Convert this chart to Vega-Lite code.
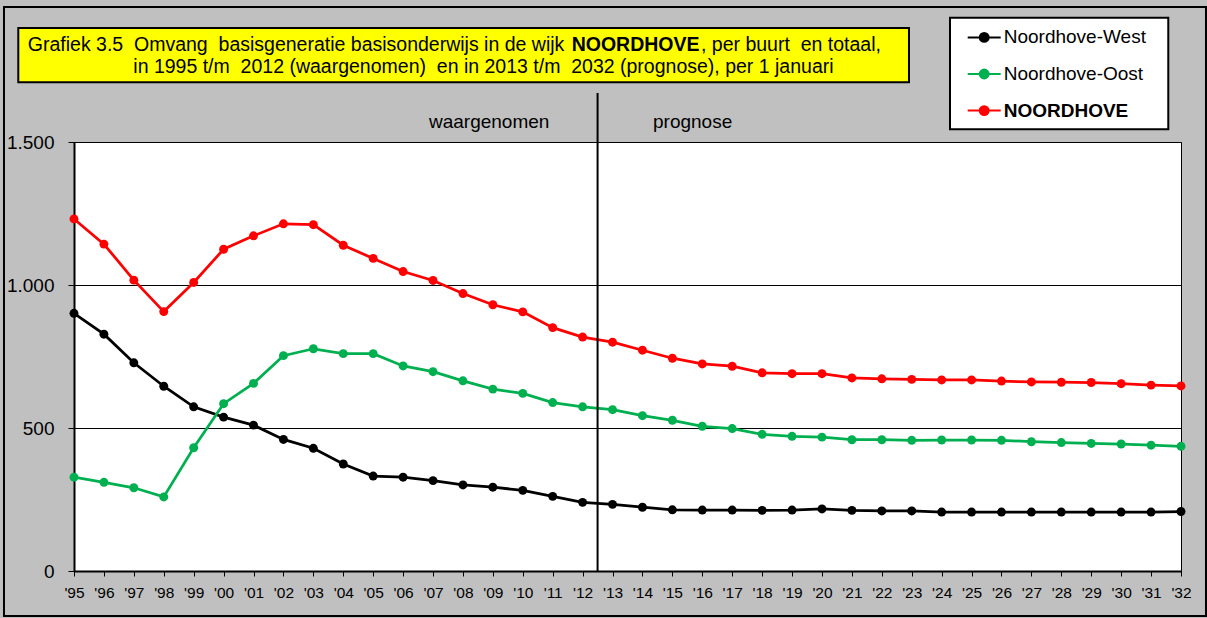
{
  "$schema": "https://vega.github.io/schema/vega-lite/v6.json",
  "width": 1107,
  "height": 429,
  "autosize": {"type": "none"},
  "padding": {"left": 74, "top": 142, "right": 26, "bottom": 47},
  "background": "#c0c0c0",
  "config": {
    "view": {"fill": "white", "stroke": "black", "strokeWidth": 1},
    "font": "Liberation Sans",
    "text": {"font": "Liberation Sans", "color": "black"},
    "axis": {
      "labelFont": "Liberation Sans", "labelColor": "black",
      "tickColor": "black", "tickWidth": 1,
      "domainColor": "black", "domainWidth": 2,
      "labelOverlap": false, "labelFlush": false
    },
    "axisX": {"labelFontSize": 15.5, "labelPadding": 9, "tickSize": 5, "grid": false},
    "axisY": {"labelFontSize": 19, "labelPadding": 14, "tickSize": 6, "grid": true, "gridColor": "black", "gridWidth": 1, "gridOpacity": 1}
  },
  "layer": [
    {
      "data": {"values": [{}]},
      "mark": {"type": "rect", "fill": "transparent", "stroke": "black", "strokeWidth": 2, "clip": false},
      "encoding": {
        "x": {"datum": 1992.66, "type": "quantitative", "axis": {"title": null, "values": [1995,1996,1997,1998,1999,2000,2001,2002,2003,2004,2005,2006,2007,2008,2009,2010,2011,2012,2013,2014,2015,2016,2017,2018,2019,2020,2021,2022,2023,2024,2025,2026,2027,2028,2029,2030,2031,2032], "labelExpr": "\"'\" + substring(toString(datum.value), 2)"}},
        "x2": {"datum": 2032.835},
        "y": {"datum": 1972.0, "type": "quantitative", "axis": {"title": null, "values": [0, 500, 1000, 1500], "labelExpr": "replace(format(datum.value, ','), ',', '.')"}},
        "y2": {"datum": -157.3}
      }
    },
    {
      "data": {"values": [{}]},
      "mark": {"type": "rect", "fill": "#ffff00", "stroke": "black", "strokeWidth": 2, "clip": false},
      "encoding": {
        "x": {"datum": 1993.138, "type": "quantitative", "axis": {"title": null, "values": [1995,1996,1997,1998,1999,2000,2001,2002,2003,2004,2005,2006,2007,2008,2009,2010,2011,2012,2013,2014,2015,2016,2017,2018,2019,2020,2021,2022,2023,2024,2025,2026,2027,2028,2029,2030,2031,2032], "labelExpr": "\"'\" + substring(toString(datum.value), 2)"}},
        "x2": {"datum": 2022.908},
        "y": {"datum": 1898.6, "type": "quantitative", "axis": {"title": null, "values": [0, 500, 1000, 1500], "labelExpr": "replace(format(datum.value, ','), ',', '.')"}},
        "y2": {"datum": 1708.8}
      }
    },
    {
      "data": {"values": [{}]},
      "mark": {"type": "text", "text": "Grafiek 3.5\u00a0 Omvang\u00a0 basisgeneratie basisonderwijs in de wijk", "align": "right", "baseline": "alphabetic", "fontSize": 19.5, "clip": false},
      "encoding": {
        "x": {"datum": 2011.388, "type": "quantitative", "axis": {"title": null, "values": [1995,1996,1997,1998,1999,2000,2001,2002,2003,2004,2005,2006,2007,2008,2009,2010,2011,2012,2013,2014,2015,2016,2017,2018,2019,2020,2021,2022,2023,2024,2025,2026,2027,2028,2029,2030,2031,2032], "labelExpr": "\"'\" + substring(toString(datum.value), 2)"}},
        "y": {"datum": 1818.2, "type": "quantitative", "axis": {"title": null, "values": [0, 500, 1000, 1500], "labelExpr": "replace(format(datum.value, ','), ',', '.')"}}
      }
    },
    {
      "data": {"values": [{}]},
      "mark": {"type": "text", "text": "NOORDHOVE", "align": "left", "baseline": "alphabetic", "fontSize": 19.5, "fontWeight": "bold", "clip": false},
      "encoding": {
        "x": {"datum": 2011.635, "type": "quantitative", "axis": {"title": null, "values": [1995,1996,1997,1998,1999,2000,2001,2002,2003,2004,2005,2006,2007,2008,2009,2010,2011,2012,2013,2014,2015,2016,2017,2018,2019,2020,2021,2022,2023,2024,2025,2026,2027,2028,2029,2030,2031,2032], "labelExpr": "\"'\" + substring(toString(datum.value), 2)"}},
        "y": {"datum": 1818.2, "type": "quantitative", "axis": {"title": null, "values": [0, 500, 1000, 1500], "labelExpr": "replace(format(datum.value, ','), ',', '.')"}}
      }
    },
    {
      "data": {"values": [{}]},
      "mark": {"type": "text", "text": ", per buurt\u00a0 en totaal,", "align": "left", "baseline": "alphabetic", "fontSize": 19.5, "clip": false},
      "encoding": {
        "x": {"datum": 2015.956, "type": "quantitative", "axis": {"title": null, "values": [1995,1996,1997,1998,1999,2000,2001,2002,2003,2004,2005,2006,2007,2008,2009,2010,2011,2012,2013,2014,2015,2016,2017,2018,2019,2020,2021,2022,2023,2024,2025,2026,2027,2028,2029,2030,2031,2032], "labelExpr": "\"'\" + substring(toString(datum.value), 2)"}},
        "y": {"datum": 1818.2, "type": "quantitative", "axis": {"title": null, "values": [0, 500, 1000, 1500], "labelExpr": "replace(format(datum.value, ','), ',', '.')"}}
      }
    },
    {
      "data": {"values": [{}]},
      "mark": {"type": "text", "text": "in 1995 t/m\u00a0 2012 (waargenomen)\u00a0 en in 2013 t/m\u00a0 2032 (prognose), per 1 januari", "align": "left", "baseline": "alphabetic", "fontSize": 19.5, "clip": false},
      "encoding": {
        "x": {"datum": 1996.982, "type": "quantitative", "axis": {"title": null, "values": [1995,1996,1997,1998,1999,2000,2001,2002,2003,2004,2005,2006,2007,2008,2009,2010,2011,2012,2013,2014,2015,2016,2017,2018,2019,2020,2021,2022,2023,2024,2025,2026,2027,2028,2029,2030,2031,2032], "labelExpr": "\"'\" + substring(toString(datum.value), 2)"}},
        "y": {"datum": 1742.3, "type": "quantitative", "axis": {"title": null, "values": [0, 500, 1000, 1500], "labelExpr": "replace(format(datum.value, ','), ',', '.')"}}
      }
    },
    {
      "data": {"values": [{}]},
      "mark": {"type": "rect", "fill": "white", "stroke": "black", "strokeWidth": 2, "clip": false},
      "encoding": {
        "x": {"datum": 2024.279, "type": "quantitative", "axis": {"title": null, "values": [1995,1996,1997,1998,1999,2000,2001,2002,2003,2004,2005,2006,2007,2008,2009,2010,2011,2012,2013,2014,2015,2016,2017,2018,2019,2020,2021,2022,2023,2024,2025,2026,2027,2028,2029,2030,2031,2032], "labelExpr": "\"'\" + substring(toString(datum.value), 2)"}},
        "x2": {"datum": 2031.575},
        "y": {"datum": 1934.6, "type": "quantitative", "axis": {"title": null, "values": [0, 500, 1000, 1500], "labelExpr": "replace(format(datum.value, ','), ',', '.')"}},
        "y2": {"datum": 1544.4}
      }
    },
    {
      "data": {"values": [{}]},
      "mark": {"type": "text", "text": "waargenomen", "align": "left", "baseline": "alphabetic", "fontSize": 19, "clip": false},
      "encoding": {
        "x": {"datum": 2006.865, "type": "quantitative", "axis": {"title": null, "values": [1995,1996,1997,1998,1999,2000,2001,2002,2003,2004,2005,2006,2007,2008,2009,2010,2011,2012,2013,2014,2015,2016,2017,2018,2019,2020,2021,2022,2023,2024,2025,2026,2027,2028,2029,2030,2031,2032], "labelExpr": "\"'\" + substring(toString(datum.value), 2)"}},
        "y": {"datum": 1550, "type": "quantitative", "axis": {"title": null, "values": [0, 500, 1000, 1500], "labelExpr": "replace(format(datum.value, ','), ',', '.')"}}
      }
    },
    {
      "data": {"values": [{}]},
      "mark": {"type": "text", "text": "prognose", "align": "left", "baseline": "alphabetic", "fontSize": 19, "clip": false},
      "encoding": {
        "x": {"datum": 2014.352, "type": "quantitative", "axis": {"title": null, "values": [1995,1996,1997,1998,1999,2000,2001,2002,2003,2004,2005,2006,2007,2008,2009,2010,2011,2012,2013,2014,2015,2016,2017,2018,2019,2020,2021,2022,2023,2024,2025,2026,2027,2028,2029,2030,2031,2032], "labelExpr": "\"'\" + substring(toString(datum.value), 2)"}},
        "y": {"datum": 1550, "type": "quantitative", "axis": {"title": null, "values": [0, 500, 1000, 1500], "labelExpr": "replace(format(datum.value, ','), ',', '.')"}}
      }
    },
    {
      "data": {
        "values": [
          {"year": 1995, "Noordhove-West": 901, "Noordhove-Oost": 328, "NOORDHOVE": 1231},
          {"year": 1996, "Noordhove-West": 828, "Noordhove-Oost": 310, "NOORDHOVE": 1143},
          {"year": 1997, "Noordhove-West": 728, "Noordhove-Oost": 291, "NOORDHOVE": 1017},
          {"year": 1998, "Noordhove-West": 646, "Noordhove-Oost": 259, "NOORDHOVE": 907},
          {"year": 1999, "Noordhove-West": 574, "Noordhove-Oost": 431, "NOORDHOVE": 1009},
          {"year": 2000, "Noordhove-West": 538, "Noordhove-Oost": 585, "NOORDHOVE": 1125},
          {"year": 2001, "Noordhove-West": 510, "Noordhove-Oost": 656, "NOORDHOVE": 1172},
          {"year": 2002, "Noordhove-West": 460, "Noordhove-Oost": 753, "NOORDHOVE": 1214},
          {"year": 2003, "Noordhove-West": 429, "Noordhove-Oost": 777, "NOORDHOVE": 1211},
          {"year": 2004, "Noordhove-West": 374, "Noordhove-Oost": 760, "NOORDHOVE": 1139},
          {"year": 2005, "Noordhove-West": 332, "Noordhove-Oost": 760, "NOORDHOVE": 1093},
          {"year": 2006, "Noordhove-West": 328, "Noordhove-Oost": 717, "NOORDHOVE": 1047},
          {"year": 2007, "Noordhove-West": 316, "Noordhove-Oost": 697, "NOORDHOVE": 1016},
          {"year": 2008, "Noordhove-West": 301, "Noordhove-Oost": 665, "NOORDHOVE": 970},
          {"year": 2009, "Noordhove-West": 293, "Noordhove-Oost": 636, "NOORDHOVE": 931},
          {"year": 2010, "Noordhove-West": 282, "Noordhove-Oost": 621, "NOORDHOVE": 906},
          {"year": 2011, "Noordhove-West": 261, "Noordhove-Oost": 589, "NOORDHOVE": 851},
          {"year": 2012, "Noordhove-West": 240, "Noordhove-Oost": 574, "NOORDHOVE": 818},
          {"year": 2013, "Noordhove-West": 233, "Noordhove-Oost": 564, "NOORDHOVE": 800},
          {"year": 2014, "Noordhove-West": 223, "Noordhove-Oost": 543, "NOORDHOVE": 772},
          {"year": 2015, "Noordhove-West": 214, "Noordhove-Oost": 527, "NOORDHOVE": 744},
          {"year": 2016, "Noordhove-West": 213, "Noordhove-Oost": 506, "NOORDHOVE": 724},
          {"year": 2017, "Noordhove-West": 213, "Noordhove-Oost": 498, "NOORDHOVE": 716},
          {"year": 2018, "Noordhove-West": 212, "Noordhove-Oost": 478, "NOORDHOVE": 693},
          {"year": 2019, "Noordhove-West": 213, "Noordhove-Oost": 471, "NOORDHOVE": 690},
          {"year": 2020, "Noordhove-West": 217, "Noordhove-Oost": 468, "NOORDHOVE": 690},
          {"year": 2021, "Noordhove-West": 212, "Noordhove-Oost": 459, "NOORDHOVE": 675},
          {"year": 2022, "Noordhove-West": 210, "Noordhove-Oost": 459, "NOORDHOVE": 672},
          {"year": 2023, "Noordhove-West": 210, "Noordhove-Oost": 457, "NOORDHOVE": 670},
          {"year": 2024, "Noordhove-West": 206, "Noordhove-Oost": 458, "NOORDHOVE": 668},
          {"year": 2025, "Noordhove-West": 206, "Noordhove-Oost": 458, "NOORDHOVE": 668},
          {"year": 2026, "Noordhove-West": 206, "Noordhove-Oost": 457, "NOORDHOVE": 664},
          {"year": 2027, "Noordhove-West": 206, "Noordhove-Oost": 452, "NOORDHOVE": 661},
          {"year": 2028, "Noordhove-West": 206, "Noordhove-Oost": 449, "NOORDHOVE": 660},
          {"year": 2029, "Noordhove-West": 206, "Noordhove-Oost": 446, "NOORDHOVE": 659},
          {"year": 2030, "Noordhove-West": 206, "Noordhove-Oost": 444, "NOORDHOVE": 655},
          {"year": 2031, "Noordhove-West": 206, "Noordhove-Oost": 440, "NOORDHOVE": 650},
          {"year": 2032, "Noordhove-West": 208, "Noordhove-Oost": 436, "NOORDHOVE": 647}
        ]
      },
      "transform": [{"fold": ["Noordhove-West", "Noordhove-Oost", "NOORDHOVE"], "as": ["buurt", "aantal"]}],
      "mark": {"type": "line", "strokeWidth": 2.75, "clip": false, "point": {"filled": true, "size": 80}},
      "encoding": {
        "x": {
          "field": "year", "type": "quantitative",
          "scale": {"domain": [1995, 2032], "nice": false, "zero": false},
          "axis": {"title": null, "values": [1995,1996,1997,1998,1999,2000,2001,2002,2003,2004,2005,2006,2007,2008,2009,2010,2011,2012,2013,2014,2015,2016,2017,2018,2019,2020,2021,2022,2023,2024,2025,2026,2027,2028,2029,2030,2031,2032], "labelExpr": "\"'\" + substring(toString(datum.value), 2)"}
        },
        "y": {
          "field": "aantal", "type": "quantitative",
          "scale": {"domain": [0, 1500], "nice": false},
          "axis": {"title": null, "values": [0, 500, 1000, 1500], "labelExpr": "replace(format(datum.value, ','), ',', '.')"}
        },
        "color": {
          "field": "buurt", "type": "nominal",
          "scale": {"domain": ["Noordhove-West", "Noordhove-Oost", "NOORDHOVE"], "range": ["#000000", "#00b050", "#ff0000"]},
          "legend": {
            "title": null, "orient": "none", "legendX": 892.7, "legendY": -122.1,
            "padding": 0, "rowPadding": 8.6, "labelOffset": 2,
            "symbolType": "M-1,0H1M-0.27,0A0.27,0.27 0 1,0 0.27,0A0.27,0.27 0 1,0 -0.27,0Z",
            "symbolSize": 1089, "symbolStrokeWidth": 2,
            "labelFont": "Liberation Sans", "labelFontSize": 19, "labelColor": "black",
            "encode": {
              "symbols": {"update": {"fill": {"signal": "scale('color', datum.value)"}, "opacity": {"value": 1}}},
              "labels": {"update": {"fontWeight": {"signal": "datum.value === 'NOORDHOVE' ? 'bold' : 'normal'"}}}
            }
          }
        }
      }
    },
    {
      "data": {"values": [{}]},
      "mark": {"type": "rule", "color": "black", "strokeWidth": 2, "clip": false},
      "encoding": {
        "x": {"datum": 2012.5, "type": "quantitative", "axis": {"title": null, "values": [1995,1996,1997,1998,1999,2000,2001,2002,2003,2004,2005,2006,2007,2008,2009,2010,2011,2012,2013,2014,2015,2016,2017,2018,2019,2020,2021,2022,2023,2024,2025,2026,2027,2028,2029,2030,2031,2032], "labelExpr": "\"'\" + substring(toString(datum.value), 2)"}},
        "y": {"datum": 0, "type": "quantitative", "axis": {"title": null, "values": [0, 500, 1000, 1500], "labelExpr": "replace(format(datum.value, ','), ',', '.')"}},
        "y2": {"datum": 1671.3}
      }
    }
  ]
}
